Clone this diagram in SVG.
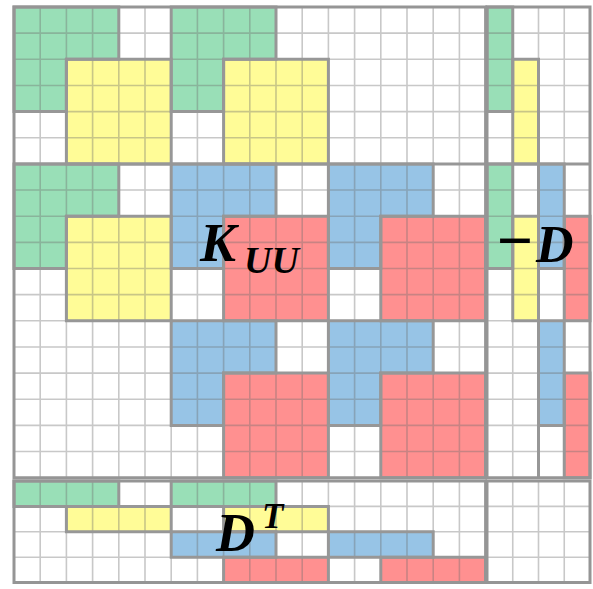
<svg xmlns="http://www.w3.org/2000/svg" width="593" height="589" viewBox="0 0 593 589">
<style>
.g{fill:#99dfb7}.y{fill:#fffc97}.b{fill:#97c4e6}.r{fill:#ff9090}
.grid{fill:none;stroke:#6e6e6e;stroke-opacity:0.38;stroke-width:1.6;vector-effect:non-scaling-stroke}
.ol{fill:none;stroke:#979797;stroke-width:3;stroke-linejoin:miter;vector-effect:non-scaling-stroke}
.fr{fill:none;stroke:#959595;stroke-width:3;vector-effect:non-scaling-stroke}
.lb{font-family:"Liberation Serif","DejaVu Serif",serif;font-weight:bold;font-style:italic;fill:#000}
</style>
<rect width="593" height="589" fill="#fff"/>

<g id="K_UU" transform="translate(14,7) scale(26.2,26.15)">
  <g id="K_UU-fills">
    <path class="g" d="M0 0H4V2H2V4H0Z"/><rect class="y" x="2" y="2" width="4" height="4"/>
    <path class="g" d="M6 0H10V2H8V4H6Z"/><rect class="y" x="8" y="2" width="4" height="4"/>
    <path class="g" d="M0 6H4V8H2V10H0Z"/><rect class="y" x="2" y="8" width="4" height="4"/>
    <path class="b" d="M6 6H10V8H8V10H6Z"/><rect class="r" x="8" y="8" width="4" height="4"/>
    <path class="b" d="M12 6H16V8H14V10H12Z"/><rect class="r" x="14" y="8" width="4" height="4"/>
    <path class="b" d="M6 12H10V14H8V16H6Z"/><rect class="r" x="8" y="14" width="4" height="4"/>
    <path class="b" d="M12 12H16V14H14V16H12Z"/><rect class="r" x="14" y="14" width="4" height="4"/>
  </g>
  <path class="grid" d="M1 0V18M2 0V18M3 0V18M4 0V18M5 0V18M6 0V18M7 0V18M8 0V18M9 0V18M10 0V18M11 0V18M12 0V18M13 0V18M14 0V18M15 0V18M16 0V18M17 0V18M0 1H18M0 2H18M0 3H18M0 4H18M0 5H18M0 6H18M0 7H18M0 8H18M0 9H18M0 10H18M0 11H18M0 12H18M0 13H18M0 14H18M0 15H18M0 16H18M0 17H18"/>
  <g id="K_UU-outlines">
    <path class="ol" d="M0 0H4V2H2V4H0Z"/><rect class="ol" x="2" y="2" width="4" height="4"/>
    <path class="ol" d="M6 0H10V2H8V4H6Z"/><rect class="ol" x="8" y="2" width="4" height="4"/>
    <path class="ol" d="M0 6H4V8H2V10H0Z"/><rect class="ol" x="2" y="8" width="4" height="4"/>
    <path class="ol" d="M6 6H10V8H8V10H6Z"/><rect class="ol" x="8" y="8" width="4" height="4"/>
    <path class="ol" d="M12 6H16V8H14V10H12Z"/><rect class="ol" x="14" y="8" width="4" height="4"/>
    <path class="ol" d="M6 12H10V14H8V16H6Z"/><rect class="ol" x="8" y="14" width="4" height="4"/>
    <path class="ol" d="M12 12H16V14H14V16H12Z"/><rect class="ol" x="14" y="14" width="4" height="4"/>
    <path class="ol" d="M0 6H18"/>
  </g>
  <rect class="fr" x="0" y="0" width="18" height="18"/>
</g>

<g id="minus_D" transform="translate(487,7) scale(25.75,26.15)">
  <rect class="g" x="0" y="0" width="1" height="4"/><rect class="g" x="0" y="6" width="1" height="4"/>
  <rect class="y" x="1" y="2" width="1" height="4"/><rect class="y" x="1" y="8" width="1" height="4"/>
  <rect class="b" x="2" y="6" width="1" height="4"/><rect class="b" x="2" y="12" width="1" height="4"/>
  <rect class="r" x="3" y="8" width="1" height="4"/><rect class="r" x="3" y="14" width="1" height="4"/>
  <path class="grid" d="M1 0V18M2 0V18M3 0V18M0 1H4M0 2H4M0 3H4M0 4H4M0 5H4M0 6H4M0 7H4M0 8H4M0 9H4M0 10H4M0 11H4M0 12H4M0 13H4M0 14H4M0 15H4M0 16H4M0 17H4"/>
  <rect class="ol" x="0" y="0" width="1" height="4"/><rect class="ol" x="0" y="6" width="1" height="4"/>
  <rect class="ol" x="1" y="2" width="1" height="4"/><rect class="ol" x="1" y="8" width="1" height="4"/>
  <rect class="ol" x="2" y="6" width="1" height="4"/><rect class="ol" x="2" y="12" width="1" height="4"/>
  <rect class="ol" x="3" y="8" width="1" height="4"/><rect class="ol" x="3" y="14" width="1" height="4"/>
  <path class="ol" d="M0 6H4M2 16V18"/>
  <rect class="fr" x="0" y="0" width="4" height="18"/>
</g>

<g id="D_T" transform="translate(14,481) scale(26.2,25.4)">
  <rect class="g" x="0" y="0" width="4" height="1"/><rect class="g" x="6" y="0" width="4" height="1"/>
  <rect class="y" x="2" y="1" width="4" height="1"/><rect class="y" x="8" y="1" width="4" height="1"/>
  <rect class="b" x="6" y="2" width="4" height="1"/><rect class="b" x="12" y="2" width="4" height="1"/>
  <rect class="r" x="8" y="3" width="4" height="1"/><rect class="r" x="14" y="3" width="4" height="1"/>
  <path class="grid" d="M1 0V4M2 0V4M3 0V4M4 0V4M5 0V4M6 0V4M7 0V4M8 0V4M9 0V4M10 0V4M11 0V4M12 0V4M13 0V4M14 0V4M15 0V4M16 0V4M17 0V4M0 1H18M0 2H18M0 3H18"/>
  <rect class="ol" x="0" y="0" width="4" height="1"/><rect class="ol" x="6" y="0" width="4" height="1"/>
  <rect class="ol" x="2" y="1" width="4" height="1"/><rect class="ol" x="8" y="1" width="4" height="1"/>
  <rect class="ol" x="6" y="2" width="4" height="1"/><rect class="ol" x="12" y="2" width="4" height="1"/>
  <rect class="ol" x="8" y="3" width="4" height="1"/><rect class="ol" x="14" y="3" width="4" height="1"/>
  <rect class="fr" x="0" y="0" width="18" height="4"/>
</g>

<g id="corner" transform="translate(487,481) scale(25.75,25.4)">
  <path class="grid" d="M1 0V4M2 0V4M3 0V4M0 1H4M0 2H4M0 3H4"/>
  <rect class="fr" x="0" y="0" width="4" height="4"/>
</g>

<g id="labels">
  <text class="lb" x="200" y="261" font-size="54">K</text>
  <text class="lb" x="244" y="273" font-size="38">UU</text>
  <text class="lb" x="495" y="262" font-size="64">−</text>
  <text class="lb" x="536" y="262" font-size="52">D</text>
  <text class="lb" x="216" y="551" font-size="54">D</text>
  <text class="lb" x="262" y="528" font-size="35">T</text>
</g>
</svg>
